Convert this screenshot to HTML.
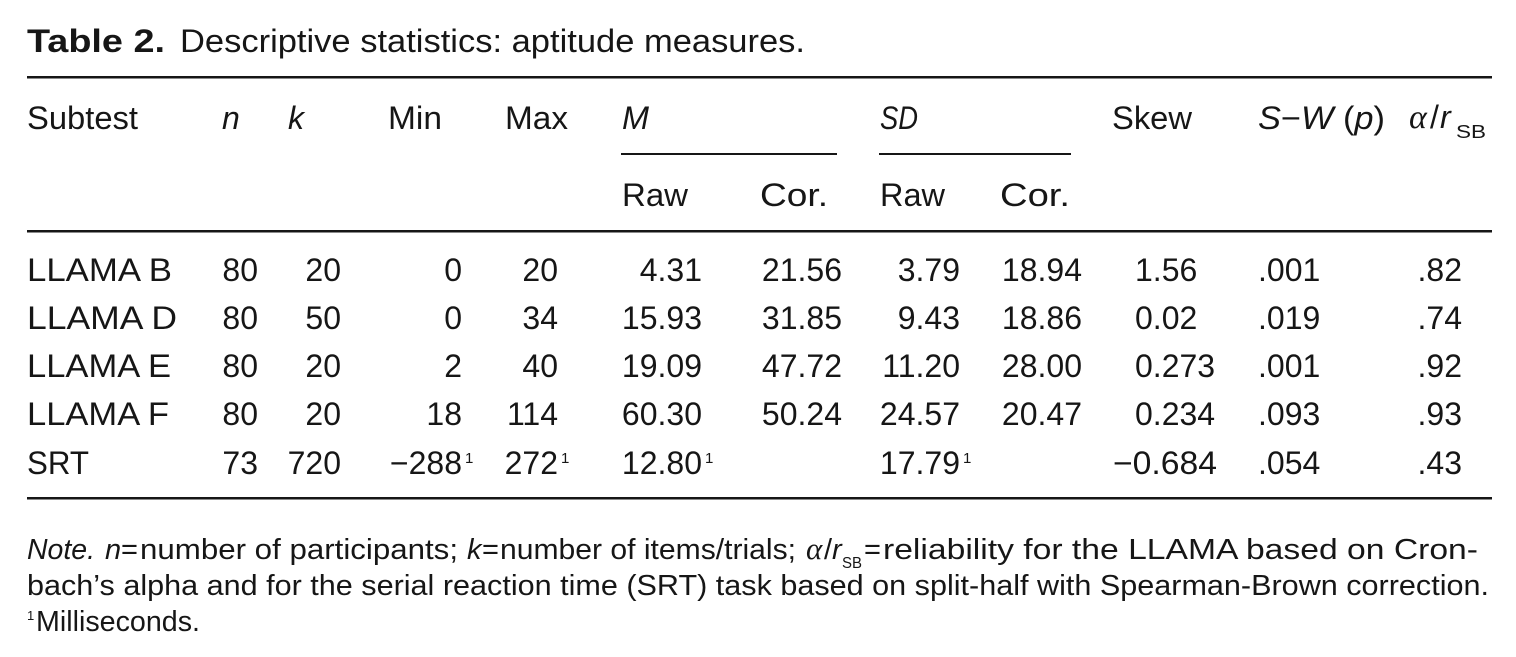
<!DOCTYPE html>
<html>
<head>
<meta charset="utf-8">
<style>
  html,body{margin:0;padding:0;background:#fff;}
  svg{display:block;}
  text{font-family:"Liberation Sans","DejaVu Sans",sans-serif;fill:#161616;}
  .b{font-size:32px;}
  .t{font-size:32px;}
  .nt{font-size:29px;}
  .i{font-style:italic;}
  .sub{font-size:18px;}
  .sup{font-size:15px;}
</style>
</head>
<body>
<svg width="1516" height="657" viewBox="0 0 1516 657" xmlns="http://www.w3.org/2000/svg">
  <!-- Title -->
  <text class="t" x="27" y="52" font-weight="bold" textLength="138" lengthAdjust="spacingAndGlyphs">Table 2.</text>
  <text class="t" x="180" y="52" textLength="625" lengthAdjust="spacingAndGlyphs">Descriptive statistics: aptitude measures.</text>

  <!-- Rules -->
  <rect x="27" y="76" width="1465" height="2.5" fill="#161616"/>
  <rect x="621" y="153" width="216" height="2" fill="#161616"/>
  <rect x="879" y="153" width="192" height="2" fill="#161616"/>
  <rect x="27" y="230" width="1465" height="2.5" fill="#161616"/>
  <rect x="27" y="497" width="1465" height="2.5" fill="#161616"/>

  <!-- Header row 1 -->
  <text class="b" x="27" y="129" textLength="111" lengthAdjust="spacingAndGlyphs">Subtest</text>
  <text class="b i" x="222" y="129">n</text>
  <text class="b i" x="288" y="129">k</text>
  <text class="b" x="388" y="129" textLength="54" lengthAdjust="spacingAndGlyphs">Min</text>
  <text class="b" x="505" y="129" textLength="63" lengthAdjust="spacingAndGlyphs">Max</text>
  <text class="b i" x="622" y="129" textLength="27" lengthAdjust="spacingAndGlyphs">M</text>
  <text class="b i" x="880" y="129" textLength="38" lengthAdjust="spacingAndGlyphs">SD</text>
  <text class="b" x="1112" y="129" textLength="80" lengthAdjust="spacingAndGlyphs">Skew</text>
  <text class="b" x="1258" y="129" textLength="127" lengthAdjust="spacingAndGlyphs"><tspan font-style="italic">S</tspan>−<tspan font-style="italic">W</tspan> (<tspan font-style="italic">p</tspan>)</text>
  <text class="b" x="1409" y="128" style="font-family:'Liberation Serif',serif;font-style:italic;font-size:34px">α</text>
  <text class="b" x="1430" y="128">/</text>
  <text class="b i" x="1440" y="128">r</text>
  <text class="sub" x="1456" y="138" textLength="30" lengthAdjust="spacingAndGlyphs">SB</text>

  <!-- Header row 2 -->
  <text class="b" x="622" y="206" textLength="66" lengthAdjust="spacingAndGlyphs">Raw</text>
  <text class="b" x="760" y="206" textLength="68" lengthAdjust="spacingAndGlyphs">Cor.</text>
  <text class="b" x="880" y="206" textLength="65" lengthAdjust="spacingAndGlyphs">Raw</text>
  <text class="b" x="1000" y="206" textLength="70" lengthAdjust="spacingAndGlyphs">Cor.</text>

  <!-- Row: LLAMA B -->
  <text class="b" x="27" y="281" textLength="145" lengthAdjust="spacingAndGlyphs">LLAMA B</text>
  <text class="b" x="258" y="281" text-anchor="end">80</text>
  <text class="b" x="341" y="281" text-anchor="end">20</text>
  <text class="b" x="462" y="281" text-anchor="end">0</text>
  <text class="b" x="558" y="281" text-anchor="end">20</text>
  <text class="b" x="702" y="281" text-anchor="end">4.31</text>
  <text class="b" x="842" y="281" text-anchor="end">21.56</text>
  <text class="b" x="960" y="281" text-anchor="end">3.79</text>
  <text class="b" x="1082" y="281" text-anchor="end">18.94</text>
  <text class="b" x="1135" y="281">1.56</text>
  <text class="b" x="1258" y="281">.001</text>
  <text class="b" x="1462" y="281" text-anchor="end">.82</text>

  <!-- Row: LLAMA D -->
  <text class="b" x="27" y="329" textLength="150" lengthAdjust="spacingAndGlyphs">LLAMA D</text>
  <text class="b" x="258" y="329" text-anchor="end">80</text>
  <text class="b" x="341" y="329" text-anchor="end">50</text>
  <text class="b" x="462" y="329" text-anchor="end">0</text>
  <text class="b" x="558" y="329" text-anchor="end">34</text>
  <text class="b" x="702" y="329" text-anchor="end">15.93</text>
  <text class="b" x="842" y="329" text-anchor="end">31.85</text>
  <text class="b" x="960" y="329" text-anchor="end">9.43</text>
  <text class="b" x="1082" y="329" text-anchor="end">18.86</text>
  <text class="b" x="1135" y="329">0.02</text>
  <text class="b" x="1258" y="329">.019</text>
  <text class="b" x="1462" y="329" text-anchor="end">.74</text>

  <!-- Row: LLAMA E -->
  <text class="b" x="27" y="377" textLength="144" lengthAdjust="spacingAndGlyphs">LLAMA E</text>
  <text class="b" x="258" y="377" text-anchor="end">80</text>
  <text class="b" x="341" y="377" text-anchor="end">20</text>
  <text class="b" x="462" y="377" text-anchor="end">2</text>
  <text class="b" x="558" y="377" text-anchor="end">40</text>
  <text class="b" x="702" y="377" text-anchor="end">19.09</text>
  <text class="b" x="842" y="377" text-anchor="end">47.72</text>
  <text class="b" x="960" y="377" text-anchor="end">11.20</text>
  <text class="b" x="1082" y="377" text-anchor="end">28.00</text>
  <text class="b" x="1135" y="377">0.273</text>
  <text class="b" x="1258" y="377">.001</text>
  <text class="b" x="1462" y="377" text-anchor="end">.92</text>

  <!-- Row: LLAMA F -->
  <text class="b" x="27" y="425" textLength="142" lengthAdjust="spacingAndGlyphs">LLAMA F</text>
  <text class="b" x="258" y="425" text-anchor="end">80</text>
  <text class="b" x="341" y="425" text-anchor="end">20</text>
  <text class="b" x="462" y="425" text-anchor="end">18</text>
  <text class="b" x="558" y="425" text-anchor="end">114</text>
  <text class="b" x="702" y="425" text-anchor="end">60.30</text>
  <text class="b" x="842" y="425" text-anchor="end">50.24</text>
  <text class="b" x="960" y="425" text-anchor="end">24.57</text>
  <text class="b" x="1082" y="425" text-anchor="end">20.47</text>
  <text class="b" x="1135" y="425">0.234</text>
  <text class="b" x="1258" y="425">.093</text>
  <text class="b" x="1462" y="425" text-anchor="end">.93</text>

  <!-- Row: SRT -->
  <text class="b" x="27" y="474" textLength="62" lengthAdjust="spacingAndGlyphs">SRT</text>
  <text class="b" x="258" y="474" text-anchor="end">73</text>
  <text class="b" x="341" y="474" text-anchor="end">720</text>
  <text class="b" x="462" y="474" text-anchor="end">−288</text>
  <text class="sup" x="465" y="463">1</text>
  <text class="b" x="558" y="474" text-anchor="end">272</text>
  <text class="sup" x="561" y="463">1</text>
  <text class="b" x="702" y="474" text-anchor="end">12.80</text>
  <text class="sup" x="705" y="463">1</text>
  <text class="b" x="960" y="474" text-anchor="end">17.79</text>
  <text class="sup" x="963" y="463">1</text>
  <text class="b" x="1113" y="474" textLength="104" lengthAdjust="spacingAndGlyphs">−0.684</text>
  <text class="b" x="1258" y="474">.054</text>
  <text class="b" x="1462" y="474" text-anchor="end">.43</text>

  <!-- Note line 1 -->
  <text class="nt i" x="27" y="559" textLength="68" lengthAdjust="spacingAndGlyphs">Note.</text>
  <text class="nt i" x="105" y="559">n</text>
  <text class="nt" x="121" y="559">=</text>
  <text class="nt" x="140" y="559" textLength="318" lengthAdjust="spacingAndGlyphs">number of participants;</text>
  <text class="nt i" x="467" y="559">k</text>
  <text class="nt" x="482" y="559">=</text>
  <text class="nt" x="500" y="559" textLength="296" lengthAdjust="spacingAndGlyphs">number of items/trials;</text>
  <text class="nt" x="806" y="559" style="font-family:'Liberation Serif',serif;font-style:italic;font-size:31px">α</text>
  <text class="nt" x="824" y="559">/</text>
  <text class="nt i" x="832" y="559">r</text>
  <text class="sub" x="842" y="568" style="font-size:16px" textLength="20" lengthAdjust="spacingAndGlyphs">SB</text>
  <text class="nt" x="864" y="559">=</text>
  <text class="nt" x="883" y="559" textLength="595" lengthAdjust="spacingAndGlyphs">reliability for the LLAMA based on Cron-</text>

  <!-- Note line 2 -->
  <text class="nt" x="27" y="595" textLength="1462" lengthAdjust="spacingAndGlyphs">bach’s alpha and for the serial reaction time (SRT) task based on split-half with Spearman-Brown correction.</text>

  <!-- Note line 3 -->
  <text class="sup" x="27" y="620" style="font-size:13px">1</text>
  <text class="nt" x="36" y="631" textLength="164" lengthAdjust="spacingAndGlyphs">Milliseconds.</text>
</svg>
</body>
</html>
